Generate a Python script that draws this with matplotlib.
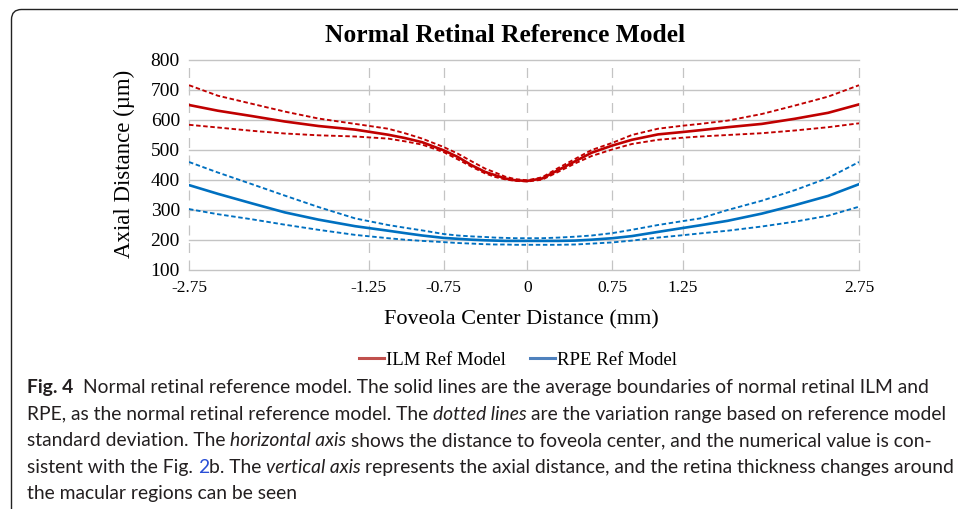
import matplotlib
matplotlib.use("Agg")
import matplotlib.pyplot as plt
from matplotlib.lines import Line2D
from matplotlib.patches import FancyBboxPatch

# position along the scan on the chart's category axis (0 = -2.75 mm, 100 = 2.75 mm)
pos = [0, 4.3, 9.4, 14.3, 19.3, 24.8, 29.7, 32.2, 34.8, 38, 40.1, 42.2, 44.2, 45.7, 47.2, 48.7,
       50.5, 52.7, 55.1, 57.6, 60.1, 63.2, 66.1, 70, 73.7, 76.3, 80.4, 85.5, 90.4, 95.4, 100]

ilm_mean  = [650, 631, 613, 595, 580, 568, 551, 540, 526, 499, 477, 449, 427, 416, 405, 399,
             397, 405, 433, 462, 491, 515, 534, 552, 560, 566, 576, 587, 604, 624, 652]
ilm_upper = [716, 681, 654, 628, 605, 587, 571, 556, 538, 510, 488, 462, 438, 425, 411, 403,
             399, 409, 440, 470, 500, 524, 550, 571, 581, 587, 598, 620, 648, 678, 716]
ilm_lower = [584, 575, 564, 555, 549, 545, 538, 529, 518, 493, 469, 444, 422, 410, 402, 397,
             395, 401, 427, 455, 480, 502, 520, 534, 541, 545, 550, 556, 565, 576, 589]

rpe_mean  = [383, 354, 322, 292, 268, 246, 231, 223, 215, 207, 204, 201, 199, 198, 197, 197,
             197, 197, 197, 198, 201, 206, 213, 227, 240, 249, 264, 288, 316, 347, 386]
rpe_upper = [460, 425, 386, 348, 310, 272, 250, 241, 232, 220, 215, 212, 210, 208, 207, 206,
             206, 206, 208, 211, 215, 223, 234, 250, 263, 272, 300, 331, 366, 407, 460]
rpe_lower = [303, 286, 269, 251, 234, 217, 206, 201, 197, 193, 190, 188, 186, 185, 185, 184,
             184, 184, 184, 185, 188, 192, 198, 208, 216, 222, 231, 245, 261, 281, 311]

tick_pos = [0, 26.8, 38.0, 50.5, 63.2, 73.7, 100]
tick_labels = ["-2.75", "-1.25", "-0.75", "0", "0.75", "1.25", "2.75"]
y_ticks = [100, 200, 300, 400, 500, 600, 700, 800]

RED = "#C00000"
BLUE = "#0070C0"
DASH = (2.4, 1.4)

plt.rcParams["font.family"] = "Liberation Serif"

W, H = 958, 509
fig = plt.figure(figsize=(W / 100, H / 100), dpi=100)

# frame around the figure panel (only top/left visible)
frame = FancyBboxPatch((11.5 / 100, -1.0), 12.0, 1.0 + (H - 9.5) / 100,
                       boxstyle="round,pad=0,rounding_size=0.1",
                       transform=fig.dpi_scale_trans, fill=False,
                       edgecolor="#222222", linewidth=1.0)
fig.patches.append(frame)

ax = fig.add_axes([189 / W, 1 - 270 / H, 670 / W, 210 / H])

ax.plot(pos, ilm_upper, color=RED, lw=1.35, dashes=DASH)
ax.plot(pos, ilm_lower, color=RED, lw=1.35, dashes=DASH)
ax.plot(pos, ilm_mean, color=RED, lw=1.9)
ax.plot(pos, rpe_upper, color=BLUE, lw=1.35, dashes=DASH)
ax.plot(pos, rpe_lower, color=BLUE, lw=1.35, dashes=DASH)
ax.plot(pos, rpe_mean, color=BLUE, lw=1.9)

ax.set_xlim(0, 100)
ax.set_ylim(100, 800)
ax.set_xticks(tick_pos)
ax.set_xticklabels(tick_labels)
ax.set_yticks(y_ticks)
ax.tick_params(length=0)
ax.tick_params(axis="y", pad=6.5, labelsize=14)
ax.tick_params(axis="x", pad=7, labelsize=12.5)
for s in ax.spines.values():
    s.set_visible(False)
ax.set_axisbelow(True)
ax.yaxis.grid(True, color="#C4C4C4", lw=1.0)
ax.xaxis.grid(True, color="#C4C4C4", lw=0.9, dashes=(8, 6))
for gl in ax.get_xgridlines() + ax.get_ygridlines():
    gl.set_clip_on(False)

fig.text(505.5 / W, 1 - 35 / H, "Normal Retinal Reference Model",
         ha="center", va="center", fontsize=18.4, fontweight="bold")
fig.text(521 / W, 1 - 320 / H, "Foveola Center Distance (mm)",
         ha="center", va="center", fontsize=16)
fig.text(124 / W, 1 - 164 / H, "Axial Distance (\u00b5m)",
         ha="center", va="center", fontsize=16.5, rotation=90)

handles = [Line2D([], [], color="#C0504D", lw=2.2),
           Line2D([], [], color="#4F81BD", lw=2.2)]
fig.legend(handles, ["ILM Ref Model", "RPE Ref Model"], loc="center",
           bbox_to_anchor=(518 / W, 1 - 360 / H), ncol=2, frameon=False,
           fontsize=13.5, handlelength=1.35, handletextpad=0.1,
           columnspacing=1.25, borderpad=0, borderaxespad=0)

# caption below the chart, drawn run by run so styles can change mid-line
cap_font = ["Lato", "DejaVu Sans"]
caption = [
    [("Fig. 4", "bold", 0),
     ("Normal retinal reference model. The solid lines are the average boundaries of normal retinal ILM and", "normal", 2)],
    [("RPE, as the normal retinal reference model. The", "normal", 0),
     ("dotted lines", "italic", 1),
     ("are the variation range based on reference model", "normal", 1)],
    [("standard deviation. The", "normal", 0),
     ("horizontal axis", "italic", 1),
     ("shows the distance to foveola center, and the numerical value is con-", "normal", 1)],
    [("sistent with the Fig.", "normal", 0),
     ("2", "blue", 1),
     ("b. The", "normal", 0),
     ("vertical axis", "italic", 1),
     ("represents the axial distance, and the retina thickness changes around", "normal", 1)],
    [("the macular regions can be seen", "normal", 0)],
]
baselines = [393.3, 419.8, 446.3, 472.8, 499.3]

renderer = fig.canvas.get_renderer()


def style_kw(style, size):
    kw = dict(family=cap_font, fontsize=size, color="#231F20")
    if style == "bold":
        kw["fontweight"] = "bold"
    elif style == "italic":
        kw["fontstyle"] = "italic"
    elif style == "blue":
        kw["color"] = "#2A4FD6"
    return kw


def width_px(s, kw):
    t = fig.text(0, 0, s, **kw)
    w = t.get_window_extent(renderer=renderer).width
    t.remove()
    return w


full_line = "Fig. 4  Normal retinal reference model. The solid lines are the average boundaries of normal retinal ILM and"
cap_size = 10 * 906 / width_px(full_line, style_kw("normal", 10))

for runs, base in zip(caption, baselines):
    x = 27.0
    for text, style, gap in runs:
        kw = style_kw(style, cap_size)
        if gap:
            x += gap * (width_px("a a", kw) - width_px("aa", kw))
        fig.text(x / W, 1 - base / H, text, ha="left", va="baseline", **kw)
        x += width_px(text, kw)

fig.savefig("out.png", dpi=100)
